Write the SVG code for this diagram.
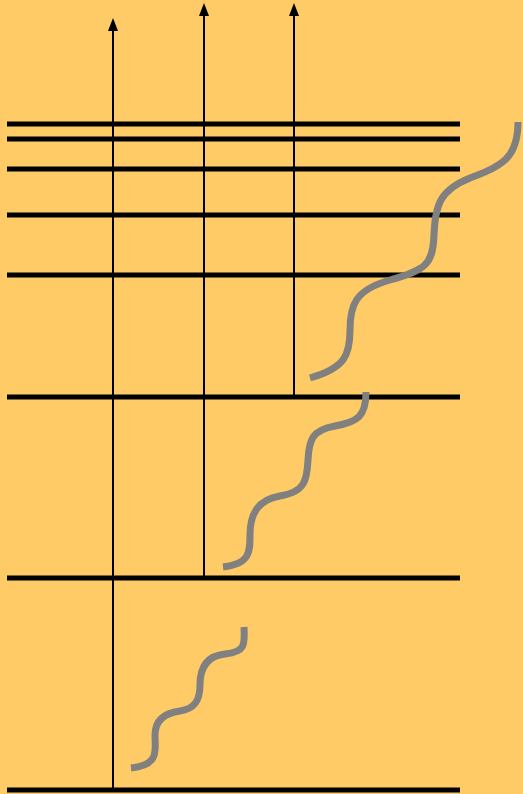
<svg xmlns="http://www.w3.org/2000/svg" width="523" height="794" viewBox="0 0 523 794">
<style>
.lvl{stroke:#000;stroke-width:5;fill:none}
.arr{stroke:#000;stroke-width:2;fill:none;marker-end:url(#ah)}
.wave{stroke:#808080;stroke-width:7;fill:none}
</style>
<defs>
<marker id="ah" markerWidth="10" markerHeight="13" refX="5" refY="1" orient="auto-start-reverse" markerUnits="userSpaceOnUse" viewBox="0 0 10 13">
<path d="M5,0 L10,13 L0,13 Z" fill="#000" transform="rotate(0)"/>
</marker>
</defs>
<rect width="523" height="794" fill="#FFCB66"/>
<g id="levels">
<line class="lvl" x1="7" y1="124" x2="460" y2="124"/>
<line class="lvl" x1="7" y1="139" x2="460" y2="139"/>
<line class="lvl" x1="7" y1="169" x2="460" y2="169"/>
<line class="lvl" x1="7" y1="215" x2="460" y2="215"/>
<line class="lvl" x1="7" y1="275" x2="460" y2="275"/>
<line class="lvl" x1="7" y1="397" x2="460" y2="397"/>
<line class="lvl" x1="7" y1="578" x2="460" y2="578"/>
<line class="lvl" x1="7" y1="790" x2="460" y2="790"/>
</g>
<g id="connectors">
<path d="M113,790 V31" stroke="#000" stroke-width="2"/>
<path d="M113,18 L118,31 L108,31 Z" fill="#000"/>
<path d="M204,578 V16" stroke="#000" stroke-width="2"/>
<path d="M204,3 L209,16 L199,16 Z" fill="#000"/>
<path d="M294,397 V16" stroke="#000" stroke-width="2"/>
<path d="M294,3 L299,16 L289,16 Z" fill="#000"/>
</g>
<g id="waves">
<path class="wave" d="M131,768 C160,765 155,750 155,735 S165,713 180,711 S200,700 200,685 S205,656 225,654 S245,645 244,627"/>
<path class="wave" d="M223,567 C250,564 250,552 250,535 S255,500 280,496 S307,480 308,460 S312,430 335,426 S366,416 366,392"/>
<path class="wave" d="M310,378 C345,368 350,355 350,330 S355,290 390,280 S433,265 434,235 S440,190 470,178 S518,160 518,122"/>
</g>
</svg>
